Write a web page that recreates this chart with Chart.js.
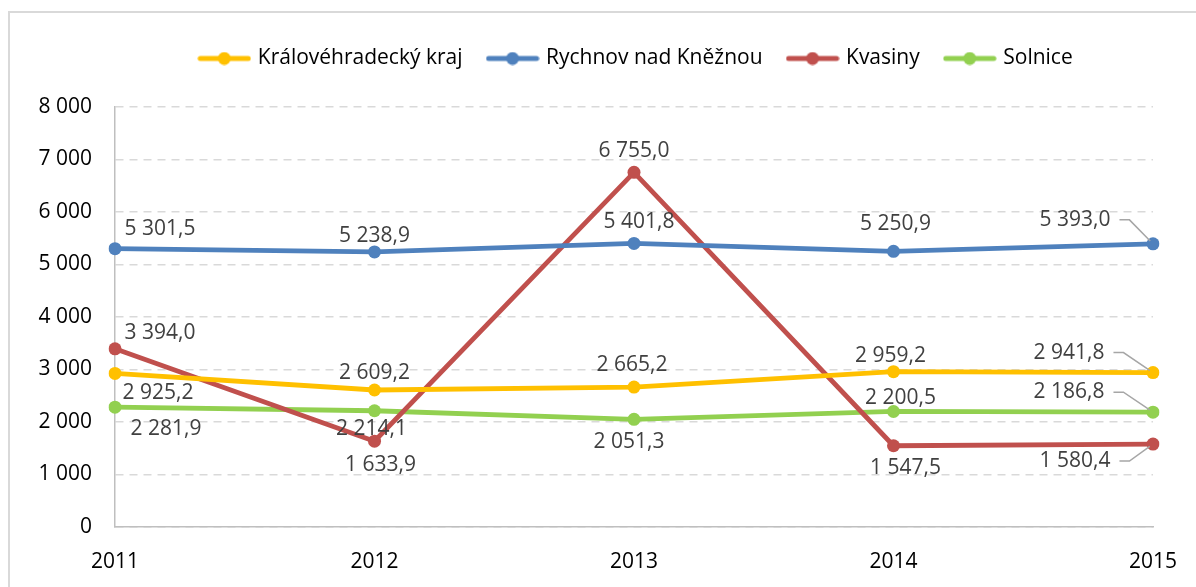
<!DOCTYPE html>
<html>
<head>
<meta charset="utf-8">
<script src="https://cdn.jsdelivr.net/npm/chart.js@4.4.1/dist/chart.umd.min.js"></script>
<style>
  body { margin: 0; background: #fff; }
  #frame { position: absolute; left: 8px; top: 11px; width: 1300px; height: 700px; border: 2px solid #d9d9d9; box-sizing: border-box; }
  #wrap { position: absolute; left: 0; top: 0; width: 1196px; height: 587px; }
</style>
</head>
<body>
<div id="frame"></div>
<div id="wrap"><canvas id="chart" width="1196" height="587"></canvas></div>
<script>
// data
const years = ['2011', '2012', '2013', '2014', '2015'];
const seriesNames = ['Královéhradecký kraj', 'Rychnov nad Kněžnou', 'Kvasiny', 'Solnice'];
const kraj = [2925.2, 2609.2, 2665.2, 2959.2, 2941.8];
const rychnov = [5301.5, 5238.9, 5401.8, 5250.9, 5393.0];
const kvasiny = [3394.0, 1633.9, 6755.0, 1547.5, 1580.4];
const solnice = [2281.9, 2214.1, 2051.3, 2200.5, 2186.8];
const yMin = 0, yMax = 8000, yStep = 1000;

const colors = ['#FFC000', '#4F81BD', '#C0504D', '#92D050'];

// where the value labels sit relative to their point (dx, dy of text centre)
const labelOffsets = [
  [[43, 20], [0, -17], [-2, -22], [-3, -16], [-84, -20]],
  [[45, -20], [0, -16], [5, -21], [2, -27], [-78, -24]],
  [[45, -16], [6, 24], [0, -21], [12, 22], [-78, 17]],
  [[51, 22], [-3, 18], [-5, 23], [7, -13], [-84, -20]]
];

function fmt(v, dec) {
  let s = v.toFixed(dec);
  let parts = s.split('.');
  parts[0] = parts[0].replace(/\B(?=(\d{3})+(?!\d))/g, ' ');
  return parts.join(',');
}

function legendIcon(color) {
  const c = document.createElement('canvas');
  c.width = 54; c.height = 14;
  const x = c.getContext('2d');
  x.strokeStyle = color;
  x.lineWidth = 5;
  x.lineCap = 'round';
  x.beginPath(); x.moveTo(3, 7); x.lineTo(51, 7); x.stroke();
  x.fillStyle = color;
  x.beginPath(); x.arc(27, 7, 6.5, 0, Math.PI * 2); x.fill();
  return c;
}
const icons = colors.map(legendIcon);

// extra room under the legend, and legend nudged to the right like the original
const legendGap = {
  id: 'legendGap',
  beforeInit(chart) {
    const fit = chart.legend.fit;
    chart.legend.fit = function () {
      fit.call(this);
      this.height += 28;
    };
  },
  afterLayout(chart) {
    const shift = 637 - (chart.legend.left + chart.legend.right) / 2;
    chart.legend.left += shift;
    chart.legend.right += shift;
  }
};

const valueLabels = {
  id: 'valueLabels',
  afterDatasetsDraw(chart) {
    const ctx = chart.ctx;
    ctx.save();
    ctx.font = '21px "Open Sans"';
    ctx.fillStyle = '#404040';
    ctx.textAlign = 'center';
    ctx.textBaseline = 'middle';
    chart.data.datasets.forEach((ds, i) => {
      const meta = chart.getDatasetMeta(i);
      meta.data.forEach((pt, j) => {
        const off = labelOffsets[i][j];
        const tx = pt.x + off[0], ty = pt.y + off[1];
        const txt = fmt(ds.data[j], 1);
        ctx.fillText(txt, tx, ty);
        if (j === ds.data.length - 1) {
          const w = ctx.measureText(txt).width;
          const r = tx + w / 2;
          const dx = pt.x - (r + 19), dy = pt.y - ty;
          const len = Math.sqrt(dx * dx + dy * dy);
          ctx.save();
          ctx.strokeStyle = '#a6a6a6';
          ctx.lineWidth = 1.5;
          ctx.beginPath();
          ctx.moveTo(r + 9, ty);
          ctx.lineTo(r + 19, ty);
          ctx.lineTo(pt.x - dx / len * 4, pt.y - dy / len * 4);
          ctx.stroke();
          ctx.restore();
        }
      });
    });
    ctx.restore();
  }
};

const allSeries = [kraj, rychnov, kvasiny, solnice];

new Chart(document.getElementById('chart'), {
  type: 'line',
  data: {
    labels: years,
    datasets: allSeries.map((d, i) => ({
      label: seriesNames[i],
      data: d,
      borderColor: colors[i],
      backgroundColor: colors[i],
      borderWidth: 4.8,
      pointRadius: 6.5,
      pointHoverRadius: 6.5,
      pointBackgroundColor: colors[i],
      pointBorderWidth: 0,
      tension: 0
    }))
  },
  options: {
    responsive: false,
    animation: false,
    layout: { padding: { left: 0, right: 43, top: 21, bottom: 0 } },
    plugins: {
      tooltip: { enabled: false },
      legend: {
        position: 'top',
        labels: {
          usePointStyle: true,
          pointStyleWidth: 46,
          padding: 27,
          color: '#000',
          font: { family: '"Open Sans"', size: 21 },
          generateLabels(chart) {
            const items = Chart.defaults.plugins.legend.labels.generateLabels(chart);
            return items.map((it, i) => Object.assign(it, { pointStyle: icons[i] }));
          }
        }
      }
    },
    scales: {
      x: {
        offset: false,
        afterFit(scale) {
          scale.height = 60;
          scale.paddingRight = 0;
          scale.paddingLeft = 0;
        },
        grid: { display: false, drawTicks: false },
        border: { display: true, color: '#bfbfbf', width: 1.5 },
        ticks: { color: '#000', padding: 22, font: { family: '"Open Sans"', size: 21 }, maxRotation: 0 }
      },
      y: {
        min: yMin,
        max: yMax,
        afterFit(scale) { scale.width = 115; },
        grid: { color: '#d9d9d9', lineWidth: 1.5, drawTicks: false },
        border: { display: true, color: '#bfbfbf', width: 1.5, dash: [8, 6] },
        ticks: {
          stepSize: yStep,
          color: '#000',
          padding: 23,
          font: { family: '"Open Sans"', size: 21 },
          callback: v => fmt(v, 0)
        }
      }
    }
  },
  plugins: [legendGap, valueLabels]
});
</script>
</body>
</html>
